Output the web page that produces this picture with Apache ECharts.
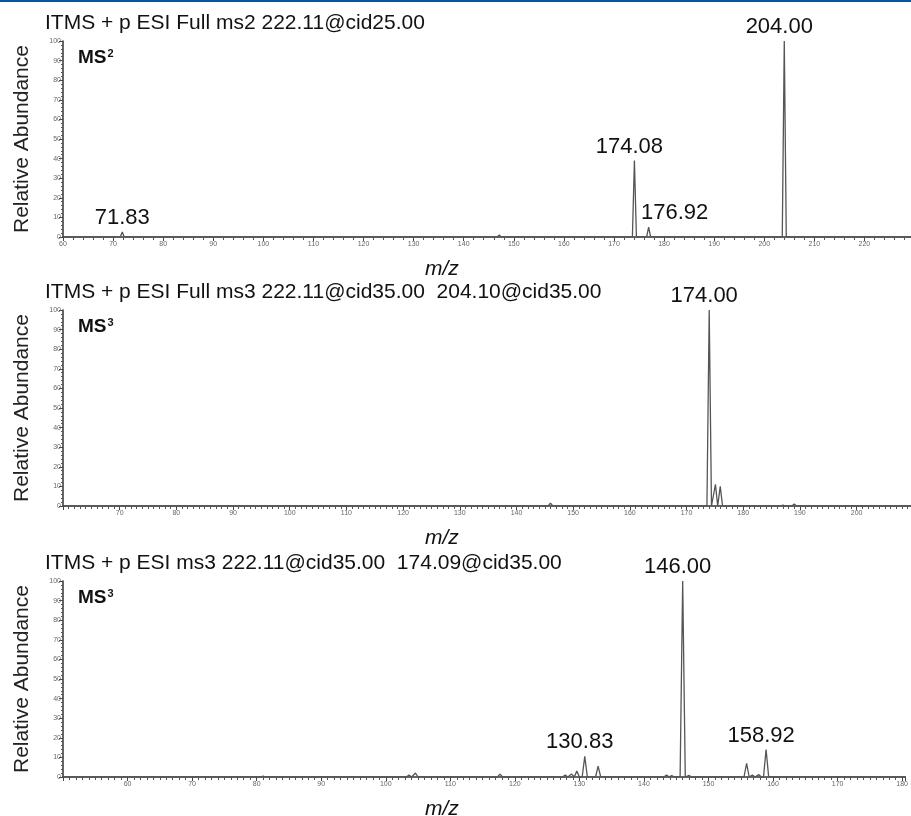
<!DOCTYPE html>
<html><head><meta charset="utf-8">
<script src="https://cdn.jsdelivr.net/npm/echarts@6/dist/echarts.min.js"></script>
<style>html,body{margin:0;padding:0;background:#fff}#c{width:911px;height:816px}</style>
</head><body><div id="c"></div>
<script>
// ---- Data ----
const titles = [
  "ITMS + p ESI Full ms2 222.11@cid25.00",
  "ITMS + p ESI Full ms3 222.11@cid35.00  204.10@cid35.00",
  "ITMS + p ESI ms3 222.11@cid35.00  174.09@cid35.00"
];
const stageOrders = ["2", "3", "3"];
const xRanges = [[60, 229.3], [60, 209.6], [50, 180.5]];

// panel 1 (MS2)
const mz1 = [71.83, 147.1, 174.08, 176.92, 204.00];
const ab1 = [2.5, 1, 39, 5, 100];
const lab1 = [71.83, 174.08, 176.92, 204.00];
// panel 2 (MS3 of 204)
const mz2 = [146.0, 174.00, 175.1, 175.95, 187.0, 189.0];
const ab2 = [1.5, 100, 11, 10, 0.5, 1];
const lab2 = [174.00];
// panel 3 (MS3 of 174)
const mz3 = [81.0, 103.6, 104.6, 117.7, 127.8, 128.8, 129.6, 130.83, 132.9, 143.5, 144.3, 146.00, 147.0, 155.9, 156.8, 157.8, 158.92];
const ab3 = [0.5, 1, 2, 1.5, 1, 1.5, 3, 10.5, 5.5, 1, 0.8, 100, 0.8, 7, 1, 1.2, 14];
const lab3 = [130.83, 146.00, 158.92];

const yTicks = [0, 10, 20, 30, 40, 50, 60, 70, 80, 90, 100];

// ---- Layout / style ----
const panels = [
  {mz: mz1, ab: ab1, lab: lab1, top: 41, minor: 5},
  {mz: mz2, ab: ab2, lab: lab2, top: 310, minor: 10},
  {mz: mz3, ab: ab3, lab: lab3, top: 581, minor: 10}
];
const H = 196, LEFT = 63;
const FONT = "'Liberation Sans', Arial, sans-serif";
const labelOffsets = {"176.92": [26, 0], "71.83": [0, 0]};

function profile(mz, ab, lo, hi, hw) {
  const pts = [[lo, 0]];
  mz.forEach((m, i) => { pts.push([m - hw, 0], [m, ab[i]], [m + hw, 0]); });
  pts.push([hi, 0]);
  return pts;
}

const grid = [], xAxis = [], yAxis = [], series = [], graphic = [];
panels.forEach((p, k) => {
  const [lo, hi] = xRanges[k];
  grid.push({left: LEFT, right: 0, top: p.top, height: H});
  xAxis.push({
    type: 'value', gridIndex: k, min: lo, max: hi, interval: 10,
    axisLine: {lineStyle: {color: '#333', width: 1.5}},
    axisTick: {length: 4, lineStyle: {color: '#444'}},
    minorTick: {show: true, splitNumber: p.minor, length: 3, lineStyle: {color: '#555'}},
    splitLine: {show: false},
    axisLabel: {fontSize: 7, color: '#666', margin: 4, fontFamily: FONT,
      showMinLabel: k === 0, showMaxLabel: false}
  });
  yAxis.push({
    type: 'value', gridIndex: k, min: 0, max: 100, interval: 10,
    name: 'Relative Abundance', nameLocation: 'middle', nameGap: 30,
    nameTextStyle: {fontSize: 21, color: '#222', fontFamily: FONT},
    axisLine: {show: true, lineStyle: {color: '#333', width: 1.5}},
    axisTick: {show: true, length: 4, lineStyle: {color: '#444'}},
    minorTick: {show: true, splitNumber: 5, length: 2, lineStyle: {color: '#555'}},
    splitLine: {show: false},
    axisLabel: {fontSize: 7, color: '#666', margin: 2, fontFamily: FONT,
      formatter: v => yTicks.includes(v) ? String(v) : ''}
  });
  series.push({
    type: 'line', xAxisIndex: k, yAxisIndex: k, showSymbol: false, symbol: 'none',
    lineStyle: {color: '#555', width: 1.3}, animation: false,
    data: profile(p.mz, p.ab, lo, hi, 0.4)
  });
  series.push({
    type: 'scatter', xAxisIndex: k, yAxisIndex: k, symbolSize: 0, animation: false,
    itemStyle: {opacity: 1},
    data: p.lab.map(m => {
      const i = p.mz.indexOf(m);
      const key = m.toFixed(2);
      return {value: [m, p.ab[i]], label: {offset: labelOffsets[key] || [-5, 0]}};
    }),
    label: {show: true, position: 'top', distance: 3, fontSize: 22, color: '#111',
      opacity: 1, fontFamily: FONT, formatter: d => d.value[0].toFixed(2)}
  });
  graphic.push({type: 'text', left: 45, top: p.top - 28,
    style: {text: titles[k], fontSize: 21, fill: '#111', fontFamily: FONT}});
  graphic.push({type: 'text', left: 78, top: p.top + 7,
    style: {text: '{b|MS}{s|' + stageOrders[k] + '}',
      rich: {b: {fontSize: 19, fontWeight: 'bold', fill: '#111', fontFamily: FONT, verticalAlign: 'bottom'},
             s: {fontSize: 11, fontWeight: 'bold', fill: '#111', fontFamily: FONT, verticalAlign: 'top', padding: [0, 0, 8, 1]}}}});
  graphic.push({type: 'text', left: 425, top: p.top + H + 22,
    style: {text: 'm/z', fontSize: 21, fontStyle: 'italic', fill: '#111', fontFamily: FONT}});
});
graphic.push({type: 'rect', left: 0, top: 0, shape: {width: 911, height: 2}, style: {fill: '#0a55a0'}});

const chart = echarts.init(document.getElementById('c'), null, {renderer: 'canvas'});
chart.setOption({animation: false, backgroundColor: '#fff', grid, xAxis, yAxis, series, graphic});
</script>
</body></html>
